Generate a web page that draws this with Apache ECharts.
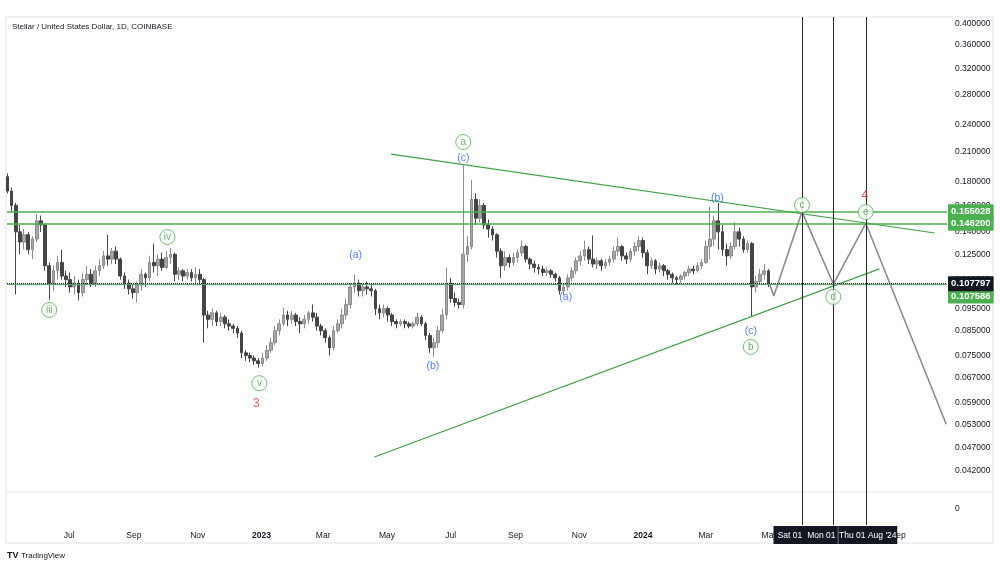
<!DOCTYPE html>
<html><head><meta charset="utf-8">
<script src="https://cdn.jsdelivr.net/npm/echarts@6/dist/echarts.min.js"></script>
<style>html,body{margin:0;padding:0;background:#fff}#c{width:1000px;height:568px}</style>
</head><body><div id="c"></div>
<script>
// ---- data ----
const startDate = '2022-05-03';
const stepDays = 4;
// [open, close, low, high] every 4 days
const ohlc = [
[.185,.172,.170,.188],[.172,.160,.155,.175],[.160,.140,.102,.162],[.140,.133,.125,.145],[.133,.138,.128,.142],
[.138,.128,.125,.140],[.128,.135,.122,.137],[.135,.148,.133,.153],[.148,.145,.140,.152],[.145,.118,.115,.146],
[.118,.108,.0995,.120],[.108,.115,.104,.118],[.115,.120,.110,.124],[.120,.112,.110,.128],[.112,.110,.106,.115],
[.110,.106,.103,.114],[.106,.108,.102,.112],[.108,.103,.099,.110],[.103,.110,.101,.114],[.110,.113,.107,.118],
[.113,.108,.106,.116],[.108,.115,.106,.118],[.115,.118,.112,.122],[.118,.124,.116,.127],[.124,.122,.118,.138],
[.122,.127,.119,.129],[.127,.122,.119,.130],[.122,.112,.110,.123],[.112,.108,.105,.114],[.108,.105,.102,.110],
[.105,.103,.100,.107],[.103,.107,.098,.109],[.107,.113,.104,.116],[.113,.111,.106,.114],[.111,.120,.109,.124],
[.120,.118,.114,.132],[.118,.122,.112,.125],[.122,.117,.115,.126],[.117,.123,.116,.127],[.123,.125,.119,.129],
[.125,.113,.109,.126],[.113,.115,.110,.117],[.115,.112,.109,.116],[.112,.114,.110,.116],[.114,.111,.109,.116],
[.111,.113,.108,.117],[.113,.110,.107,.116],[.110,.092,.080,.111],[.092,.090,.086,.094],[.090,.093,.087,.095],
[.093,.089,.087,.094],[.089,.091,.087,.093],[.091,.088,.086,.092],[.088,.087,.085,.090],[.087,.086,.084,.088],
[.086,.084,.082,.087],[.084,.076,.074,.085],[.076,.075,.073,.077],[.075,.074,.0725,.076],[.074,.073,.0715,.075],
[.073,.072,.0705,.074],[.072,.074,.071,.076],[.074,.077,.073,.079],[.077,.080,.076,.082],[.080,.085,.079,.087],
[.085,.088,.083,.090],[.088,.092,.087,.0955],[.092,.090,.087,.094],[.090,.092,.088,.094],[.092,.089,.087,.093],
[.089,.088,.084,.091],[.088,.090,.086,.092],[.090,.093,.088,.094],[.093,.091,.089,.097],[.091,.087,.085,.093],
[.087,.085,.083,.088],[.085,.082,.080,.086],[.082,.078,.075,.083],[.078,.085,.077,.087],[.085,.088,.084,.090],
[.088,.092,.086,.095],[.092,.097,.090,.100],[.097,.106,.095,.108],[.106,.108,.103,.113],[.108,.104,.101,.110],
[.104,.106,.101,.108],[.106,.105,.102,.109],[.105,.104,.101,.108],[.104,.095,.092,.105],[.095,.093,.090,.097],
[.093,.095,.091,.097],[.095,.092,.089,.096],[.092,.089,.087,.093],[.089,.088,.086,.090],[.088,.089,.087,.090],
[.089,.088,.086,.090],[.088,.087,.086,.089],[.087,.088,.086,.089],[.088,.091,.087,.093],[.091,.088,.087,.092],
[.088,.083,.081,.089],[.083,.078,.076,.084],[.078,.080,.0745,.082],[.080,.085,.078,.087],[.085,.092,.084,.095],
[.092,.108,.090,.117],[.108,.100,.098,.111],[.100,.098,.096,.103],[.098,.097,.095,.100],[.097,.125,.095,.196],
[.125,.130,.120,.137],[.130,.165,.128,.182],[.165,.150,.145,.170],[.150,.160,.147,.165],[.160,.145,.142,.162],
[.145,.142,.136,.149],[.142,.138,.134,.144],[.138,.127,.123,.139],[.127,.118,.111,.129],[.118,.123,.115,.127],
[.123,.120,.117,.125],[.120,.123,.118,.126],[.123,.126,.120,.128],[.126,.130,.124,.134],[.130,.122,.120,.131],
[.122,.119,.116,.123],[.119,.117,.114,.121],[.117,.116,.113,.119],[.116,.114,.112,.118],[.114,.115,.112,.117],
[.115,.113,.111,.116],[.113,.111,.109,.114],[.111,.104,.102,.112],[.104,.106,.1015,.108],[.106,.111,.104,.113],
[.111,.115,.109,.117],[.115,.121,.113,.123],[.121,.124,.118,.127],[.124,.128,.121,.134],[.128,.122,.119,.130],
[.122,.119,.117,.1375],[.119,.121,.116,.123],[.121,.118,.115,.122],[.118,.120,.116,.122],[.120,.122,.118,.124],
[.122,.127,.120,.130],[.127,.130,.124,.136],[.130,.124,.121,.131],[.124,.122,.119,.126],[.122,.127,.120,.129],
[.127,.130,.124,.133],[.130,.134,.127,.137],[.134,.126,.123,.136],[.126,.118,.113,.128],[.118,.121,.116,.123],
[.121,.116,.113,.122],[.116,.118,.114,.120],[.118,.115,.112,.119],[.115,.113,.110,.116],[.113,.111,.108,.114],
[.111,.110,.107,.112],[.110,.112,.108,.113],[.112,.114,.110,.115],[.114,.116,.112,.118],[.116,.115,.113,.118],
[.115,.118,.114,.120],[.118,.120,.116,.122],[.120,.130,.119,.134],[.130,.135,.122,.159],[.135,.148,.130,.152],
[.148,.140,.128,.162],[.140,.128,.124,.145],[.128,.124,.118,.132],[.124,.130,.122,.133],[.130,.140,.128,.147],
[.140,.135,.130,.143],[.135,.128,.126,.137],[.128,.132,.126,.134],[.132,.106,.0915,.133],[.106,.109,.103,.112],
[.109,.113,.107,.116],[.113,.115,.110,.119],[.115,.1078,.106,.116]
];
const priceTicks = [0.4,0.36,0.32,0.28,0.24,0.21,0.18,0.16,0.14,0.125,0.11,0.095,0.085,0.075,0.067,0.059,0.053,0.047,0.042];
const timeTickDates = ['2022-07-01','2022-09-01','2022-11-01','2023-01-01','2023-03-01','2023-05-01','2023-07-01','2023-09-01','2023-11-01','2024-01-01','2024-03-01','2024-05-01','2024-09-01'];
const timeTickLabels = ['Jul','Sep','Nov','2023','Mar','May','Jul','Sep','Nov','2024','Mar','May','Sep'];
const levelLines = [0.155028, 0.1462];
const lastPrice = 0.107797;
const levelD = 0.107586;
const projection = [['2024-05-01',0.1078],['2024-05-05',0.1013],['2024-06-01',0.155028],['2024-07-01',0.107586],['2024-08-01',0.1462],['2024-10-17',0.053]];
const upperTrend = [['2023-05-05',0.2074],['2024-10-06',0.1392]];
const lowerTrend = [['2023-04-19',0.0449],['2024-08-14',0.1161]];
const markerDates = ['2024-06-01','2024-07-01','2024-08-01'];
const markerLabels = ['Sat 01','Mon 01',"Thu 01 Aug '24"];
const waveCircles = [['2022-06-12',0.0944,'iii'],['2022-10-03',0.1364,'iv'],['2022-12-30',0.0652,'v'],['2023-07-13',0.2204,'a'],['2024-04-13',0.0783,'b'],['2024-06-01',0.1603,'c'],['2024-07-01',0.1008,'d'],['2024-08-01',0.1547,'e']];
const waveBlue = [['2023-04-01',0.1246,'(a)'],['2023-06-14',0.0711,'(b)'],['2023-07-13',0.2033,'(c)'],['2023-10-19',0.1005,'(a)'],['2024-03-12',0.1661,'(b)'],['2024-04-13',0.0848,'(c)']];
const waveRed = [['2022-12-27',0.0587,'3','#e53935'],['2024-07-31',0.1678,'4','#c62828']];

// ---- helpers ----
const ts = s => new Date(s + 'T00:00:00Z').getTime();
const DAY = 86400000;
const t0 = ts(startDate);
const xMin = Date.UTC(2022,4,2,14), xMax = Date.UTC(2024,9,17,17);
const candles = ohlc.map((d,i)=>[t0 + i*stepDays*DAY, d[0], d[1], d[2], d[3]]);
const tickMap = {};
timeTickDates.forEach((d,i)=>{ tickMap[ts(d)] = timeTickLabels[i]; });
const FONT = 'Liberation Sans, Arial, sans-serif';
const GREEN = '#4caf50';

const lvlLabel = (bg) => ({show:true, position:'end', distance:1, color:'#fff', backgroundColor:bg, fontSize:9.5, fontWeight:'bold', fontFamily:FONT, padding:[3,3,2,3], borderRadius:1, formatter: p => Number(p.value).toFixed(6)});

const chart = echarts.init(document.getElementById('c'), null, {renderer:'canvas'});
chart.setOption({
  animation:false,
  backgroundColor:'#ffffff',
  grid:[
    {left:7, right:53, top:17, bottom:76},
    {left:7, right:53, top:492, bottom:43}
  ],
  xAxis:[
    {type:'value', gridIndex:0, min:xMin, max:xMax, axisLine:{show:false}, axisTick:{show:false}, axisLabel:{show:false}, splitLine:{show:false}},
    {type:'value', gridIndex:1, min:xMin, max:xMax, axisLine:{show:false}, axisTick:{show:false}, splitLine:{show:false},
     axisLabel:{customValues: timeTickDates.map(ts), margin:6, color:'#131722', fontSize:8.5, fontFamily:FONT,
       formatter: v => { const l = tickMap[v] || ''; return /^\d{4}$/.test(l) ? '{b|'+l+'}' : l; },
       rich:{b:{fontWeight:'bold', fontSize:8.5, color:'#131722', fontFamily:FONT}}}}
  ],
  yAxis:[
    {type:'log', gridIndex:0, position:'right', logBase:10, min:0.037633, max:0.41440,
     axisLine:{show:false}, axisTick:{show:false}, splitLine:{show:false},
     axisLabel:{customValues: priceTicks, formatter: v => Number(v).toFixed(6), margin:8, color:'#131722', fontSize:8.5, fontFamily:FONT, hideOverlap:false}},
    {type:'value', gridIndex:1, position:'right', min:-1, max:1, interval:1,
     axisLine:{show:false}, axisTick:{show:false}, splitLine:{show:false},
     axisLabel:{formatter: v => v===0 ? '0' : '', margin:8, color:'#131722', fontSize:8.5, fontFamily:FONT}}
  ],
  series:[
    {type:'candlestick', name:'XLMUSD', xAxisIndex:0, yAxisIndex:0, data:candles, encode:{x:0, y:[1,2,3,4]},
     barWidth:3.2, itemStyle:{color:'#a6a6a6', color0:'#454545', borderColor:'#8c8c8c', borderColor0:'#454545', borderWidth:1},
     markLine:{silent:true, symbol:['none','none'], precision:6, animation:false,
       data:[
         {yAxis:levelLines[0], lineStyle:{color:GREEN, width:1.5, type:'solid'}, label:lvlLabel(GREEN)},
         {yAxis:levelLines[1], lineStyle:{color:GREEN, width:1.5, type:'solid'}, label:lvlLabel(GREEN)},
         {yAxis:levelD, lineStyle:{color:'#5aa55d', width:1, type:'solid'}, label:Object.assign(lvlLabel(GREEN), {offset:[0,12]})},
         {yAxis:lastPrice, lineStyle:{color:'#1b1b1b', width:1, type:'dotted'}, label:lvlLabel('#131722')}
       ]}},
    {type:'line', name:'upper', xAxisIndex:0, yAxisIndex:0, data:upperTrend.map(d=>[ts(d[0]),d[1]]), showSymbol:false, symbol:'none',
     lineStyle:{color:'#43a047', width:1.2}},
    {type:'line', name:'lower', xAxisIndex:0, yAxisIndex:0, data:lowerTrend.map(d=>[ts(d[0]),d[1]]), showSymbol:false, symbol:'none',
     lineStyle:{color:'#43a047', width:1.2}},
    {type:'line', name:'projection', xAxisIndex:0, yAxisIndex:0, data:projection.map(d=>[ts(d[0]),d[1]]), showSymbol:false, symbol:'none',
     lineStyle:{color:'#8b8b95', width:1.6},
     markLine:{silent:true, symbol:['none','none'], animation:false, label:{show:false},
       lineStyle:{color:'#2a2a2a', width:1, type:'solid'},
       data: markerDates.map(d=>({xAxis:ts(d)}))}},
    {type:'scatter', name:'circles', xAxisIndex:0, yAxisIndex:0, z:5, data:waveCircles.map(d=>[ts(d[0]),d[1],d[2]]),
     symbol:'circle', symbolSize:15, itemStyle:{color:'#ffffff', borderColor:GREEN, borderWidth:1},
     label:{show:true, position:'inside', formatter:p=>p.value[2], color:'#3fa343', fontSize:10, fontFamily:FONT}},
    {type:'scatter', name:'blue', xAxisIndex:0, yAxisIndex:0, z:5, data:waveBlue.map(d=>[ts(d[0]),d[1],d[2]]),
     symbol:'circle', symbolSize:1, itemStyle:{color:'rgba(0,0,0,0)'},
     label:{show:true, position:'inside', formatter:p=>p.value[2], color:'#2962ff', fontSize:10.5, fontFamily:FONT}},
    {type:'scatter', name:'red', xAxisIndex:0, yAxisIndex:0, z:5, data:waveRed.map(d=>({value:[ts(d[0]),d[1],d[2]], label:{color:d[3]}})),
     symbol:'circle', symbolSize:1, itemStyle:{color:'rgba(0,0,0,0)'},
     label:{show:true, position:'inside', formatter:p=>p.value[2], fontSize:12, fontFamily:FONT}},
    {type:'line', name:'pane2', xAxisIndex:1, yAxisIndex:1, data:[[xMin,0]], showSymbol:false, symbol:'none', lineStyle:{opacity:0},
     markLine:{silent:true, symbol:['none','none'], animation:false,
       lineStyle:{color:'#2a2a2a', width:1, type:'solid'},
       data: markerDates.map((d,i)=>({xAxis:ts(d),
         label:{show:true, position:'start', distance:1, formatter:markerLabels[i], color:'#fff', backgroundColor:'#131722',
           fontSize:8.5, fontFamily:FONT, padding:[5,4,4,4], offset:[[-12,-12,2][i],0],
           width:[25,25,51][i], align:'center'}}))}}
  ],
  graphic:[
    {type:'rect', shape:{x:6, y:17, width:987, height:526}, style:{fill:'none', stroke:'#e0e3eb', lineWidth:1}, silent:true, z:-1},
    {type:'line', shape:{x1:6, y1:492, x2:993, y2:492}, style:{stroke:'#e0e3eb', lineWidth:1}, silent:true},
    {type:'text', left:12, top:23, style:{text:'Stellar / United States Dollar, 1D, COINBASE', fill:'#131722', fontSize:8, fontFamily:FONT}},
    {type:'text', left:7, top:551, style:{text:'TV', fill:'#131722', fontSize:9, fontWeight:'bold', fontFamily:FONT}},
    {type:'text', left:21, top:552, style:{text:'TradingView', fill:'#131722', fontSize:8, fontFamily:FONT}}
  ]
});
</script></body></html>
